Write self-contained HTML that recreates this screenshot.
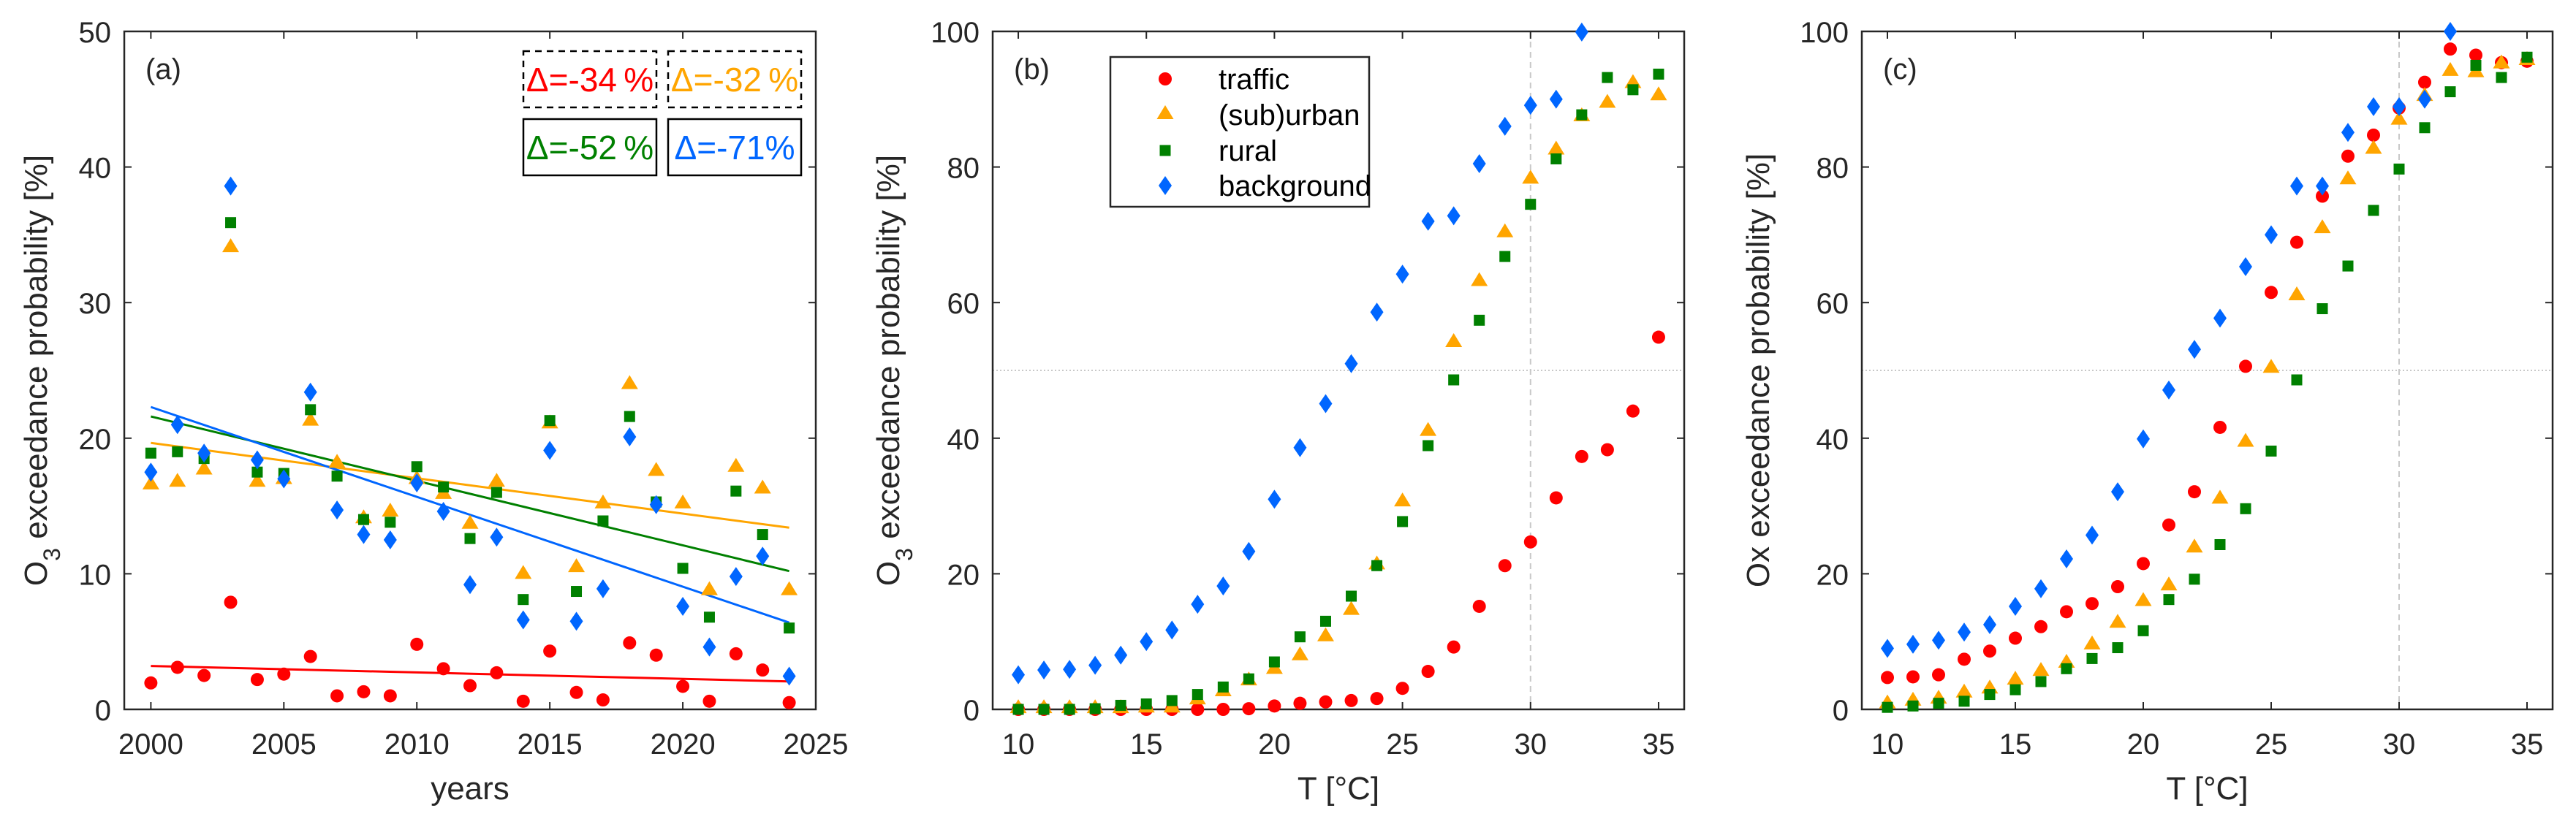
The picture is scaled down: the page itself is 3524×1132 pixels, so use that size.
<!DOCTYPE html>
<html><head><meta charset="utf-8"><title>O3 exceedance</title>
<style>html,body{margin:0;padding:0;background:#fff}svg{display:block}text{font-family:"Liberation Sans",Arial,sans-serif;fill:#262626}</style>
</head><body>
<svg id="fig" width="3524" height="1132" viewBox="0 0 3524 1132" xmlns="http://www.w3.org/2000/svg"></svg>
<script>
// ---------- Panel (a) data ----------
const years = [2000,2001,2002,2003,2004,2005,2006,2007,2008,2009,2010,2011,2012,2013,2014,2015,2016,2017,2018,2019,2020,2021,2022,2023,2024];
const aTraffic = [1.95,3.1,2.5,7.9,2.2,2.6,3.9,1.0,1.3,1.0,4.8,3.0,1.75,2.7,0.6,4.3,1.25,0.7,4.9,4.0,1.7,0.6,4.1,2.9,0.5];
const aSuburban = [16.6,16.8,17.7,34.1,16.8,17.0,21.3,18.2,14.1,14.6,17.0,15.9,13.7,16.8,10.0,21.1,10.5,15.2,24.0,17.6,15.2,8.8,17.9,16.3,8.8];
const aRural = [18.9,19.0,18.5,35.9,17.5,17.4,22.1,17.2,14.0,13.8,17.9,16.4,12.6,16.0,8.1,21.3,8.7,13.9,21.6,15.3,10.4,6.8,16.1,12.9,6.0];
const aBackground = [17.5,21.0,18.9,38.6,18.4,17.0,23.4,14.7,12.9,12.5,16.7,14.6,9.2,12.7,6.6,19.1,6.5,8.9,20.1,15.1,7.6,4.6,9.8,11.3,2.45];
const trendStart = [3.2,19.65,21.6,22.3];
const trendEnd = [2.06,13.4,10.2,6.4];
const deltaLabels = ["Δ=-34\u2009%","Δ=-32\u2009%","Δ=-52\u2009%","Δ=-71%"];
const aYTicks = [0,10,20,30,40,50];
const aXTicks = [2000,2005,2010,2015,2020,2025];
// ---------- Panel (b) data ----------
const temps = [10,11,12,13,14,15,16,17,18,19,20,21,22,23,24,25,26,27,28,29,30,31,32,33,34,35];
const bTraffic = [0,0,0,0,0,0,0,0,0,0.1,0.5,0.9,1.1,1.3,1.6,3.1,5.6,9.2,15.2,21.2,24.7,31.2,37.3,38.3,44.0,54.9];
const bSuburban = [0.2,0.2,0.2,0.2,0.2,0.3,0.3,1.5,2.7,4.3,6.0,8.0,10.8,14.7,21.4,30.7,41.1,54.2,63.2,70.4,78.3,82.6,87.5,89.5,92.4,90.6];
const bRural = [0,0,0,0.1,0.6,0.8,1.3,2.2,3.3,4.5,7.0,10.7,13.0,16.7,21.2,27.7,38.9,48.6,57.4,66.8,74.5,81.2,87.7,93.2,91.4,93.7];
const bBackground = [5.1,5.8,5.9,6.5,8.0,10.0,11.7,15.5,18.2,23.3,31.0,38.6,45.1,51.0,58.6,64.2,72.0,72.8,80.5,86.0,89.1,90.0,99.9,null,null,null];
// ---------- Panel (c) data ----------
const cTraffic = [4.7,4.8,5.1,7.4,8.6,10.5,12.2,14.4,15.6,18.1,21.5,27.2,32.1,41.6,50.6,61.5,68.9,75.7,81.6,84.7,88.7,92.5,97.4,96.5,95.4,95.6];
const cSuburban = [0.9,1.3,1.6,2.5,3.1,4.4,5.7,6.9,9.6,12.8,16.0,18.3,23.9,31.1,39.5,50.4,61.1,71.0,78.2,82.7,87.0,90.5,94.2,94.0,95.3,95.8];
const cRural = [0.3,0.5,0.9,1.2,2.2,2.9,4.1,6.0,7.5,9.1,11.6,16.2,19.2,24.3,29.6,38.1,48.6,59.1,65.4,73.6,79.7,85.8,91.1,95.0,93.2,96.2];
const cBackground = [9.0,9.6,10.2,11.4,12.5,15.2,17.8,22.2,25.7,32.1,39.9,47.1,53.1,57.7,65.3,70.0,77.2,77.2,85.1,88.9,88.9,90.0,100,null,null,null];
const tYTicks = [0,20,40,60,80,100];
const tXTicks = [10,15,20,25,30,35];
const seriesNames = ["traffic","(sub)urban","rural","background"];

const NS="http://www.w3.org/2000/svg";
const svg=document.getElementById('fig');
const COL=["#ff0000","#ffa500","#008000","#0066ff"];
const AX="#262626";
const TOP=43,BOT=971;
function mk(tag,attrs,parent){const e=document.createElementNS(NS,tag);for(const k in attrs)e.setAttribute(k,attrs[k]);(parent||svg).appendChild(e);return e;}

function marker(g,kind,cx,cy,name){
  let e;
  if(kind===0){e=mk('circle',{cx:cx,cy:cy,r:9,fill:COL[0]},g);}
  else if(kind===1){e=mk('polygon',{points:`${cx-11.5},${cy+7} ${cx+11.5},${cy+7} ${cx},${cy-12}`,fill:COL[1]},g);}
  else if(kind===2){e=mk('rect',{x:cx-7.5,y:cy-7.5,width:15,height:15,fill:COL[2]},g);}
  else {e=mk('polygon',{points:`${cx},${cy-13} ${cx+9},${cy} ${cx},${cy+13} ${cx-9},${cy}`,fill:COL[3]},g);}
  
  
  return e;
}

function panel(o){
  const g=mk('g',{});
  
  
  const sx=v=>o.L+(v-o.xmin)/(o.xmax-o.xmin)*(o.R-o.L);
  const sy=v=>BOT-(v-o.ymin)/(o.ymax-o.ymin)*(BOT-TOP);
  if(o.refs){
    const h=mk('line',{x1:o.L,x2:o.R,y1:sy(50),y2:sy(50),stroke:"#c8c8c8","stroke-width":2,"stroke-dasharray":"2 3"},g);
    
    const v=mk('line',{x1:sx(30),x2:sx(30),y1:TOP,y2:BOT,stroke:"#c8c8c8","stroke-width":2,"stroke-dasharray":"8 6"},g);
    
  }
  o.xt.forEach(t=>{
    const x=sx(t);
    mk('line',{x1:x,x2:x,y1:BOT,y2:BOT-10,stroke:AX,"stroke-width":2},g);
    mk('line',{x1:x,x2:x,y1:TOP,y2:TOP+10,stroke:AX,"stroke-width":2},g);
    const tx=mk('text',{x:x,y:1032,"font-size":40,"text-anchor":"middle"},g);tx.textContent=t;
    
  });
  o.yt.forEach(t=>{
    const y=sy(t);
    mk('line',{x1:o.L,x2:o.L+10,y1:y,y2:y,stroke:AX,"stroke-width":2},g);
    mk('line',{x1:o.R,x2:o.R-10,y1:y,y2:y,stroke:AX,"stroke-width":2},g);
    const tx=mk('text',{x:o.L-18,y:y+15,"font-size":40,"text-anchor":"end"},g);tx.textContent=t;
    
  });
  const box=mk('rect',{x:o.L,y:TOP,width:o.R-o.L,height:BOT-TOP,fill:"none",stroke:AX,"stroke-width":2.5},g);
  
  if(o.trend){
    for(let i=0;i<4;i++){
      const l=mk('line',{x1:sx(o.xs[0]),x2:sx(o.xs[o.xs.length-1]),y1:sy(trendStart[i]),y2:sy(trendEnd[i]),stroke:COL[i],"stroke-width":3},g);
      
    }
  }
  o.series.forEach((arr,k)=>{
    const sg=mk('g',{},g);
    
    
    arr.forEach((v,i)=>{ if(v===null)return; marker(sg,k,sx(o.xs[i]),sy(v),'point'); });
  });
  const pl=mk('text',{x:o.L+29,y:108,"font-size":40,fill:"#000"},g);pl.textContent=o.tag;
  
  const xl=mk('text',{x:(o.L+o.R)/2,y:1094,"font-size":44,"text-anchor":"middle"},g);xl.textContent=o.xlabel;
  
  const cy=(TOP+BOT)/2;
  const yl=mk('text',{x:0,y:0,"font-size":44,"text-anchor":"middle",transform:`translate(${o.ylx},${cy}) rotate(-90)`},g);
  
  if(o.o3){
    const a=mk('tspan',{},yl);a.textContent="O";
    const b=mk('tspan',{"baseline-shift":"sub","font-size":32},yl);b.textContent="3";
    const c=mk('tspan',{},yl);c.textContent=" exceedance probability [%]";
  } else yl.textContent="Ox exceedance probability [%]";
  return g;
}

panel({id:'panel-a',tag:'(a)',L:170,R:1116,xmin:1999,xmax:2025,ymin:0,ymax:50,xt:aXTicks,yt:aYTicks,xs:years,
  series:[aTraffic,aSuburban,aRural,aBackground],trend:true,xlabel:'years',ylx:64,o3:true});
panel({id:'panel-b',tag:'(b)',L:1358,R:2304,xmin:9,xmax:36,ymin:0,ymax:100,xt:tXTicks,yt:tYTicks,xs:temps,
  series:[bTraffic,bSuburban,bRural,bBackground],refs:true,xlabel:'T [°C]',ylx:1230,o3:true});
panel({id:'panel-c',tag:'(c)',L:2547,R:3492,xmin:9,xmax:36,ymin:0,ymax:100,xt:tXTicks,yt:tYTicks,xs:temps,
  series:[cTraffic,cSuburban,cRural,cBackground],refs:true,xlabel:'T [°C]',ylx:2420,o3:false});

const dbox=[[716,70,true],[914,70,true],[716,163,false],[914,163,false]];
for(let i=0;i<4;i++){
  const [x,y,dash]=dbox[i];
  const g=mk('g',{});
  
  
  const r=mk('rect',{x:x,y:y,width:182,height:77,fill:"#fff",stroke:"#000","stroke-width":2.5},g);
  if(dash)r.setAttribute('stroke-dasharray','9 7');
  const t=mk('text',{x:x+91,y:y+55,"font-size":46,"text-anchor":"middle",fill:COL[i],style:"fill:"+COL[i]},g);
  t.textContent=deltaLabels[i];
}

const lg=mk('g',{});


mk('rect',{x:1519,y:78,width:354,height:205,fill:"#fff",stroke:AX,"stroke-width":2.5},lg);
const rowY=[108,157,206,254];
for(let i=0;i<4;i++){
  const eg=mk('g',{},lg);
  
  
  marker(eg,i,1594,rowY[i]+(i===1?-1:0),'legend-marker');
  const t=mk('text',{x:1667,y:rowY[i]+14,"font-size":40,fill:"#000",style:"fill:#000"},eg);
  t.textContent=seriesNames[i];
}
</script>
</body></html>
